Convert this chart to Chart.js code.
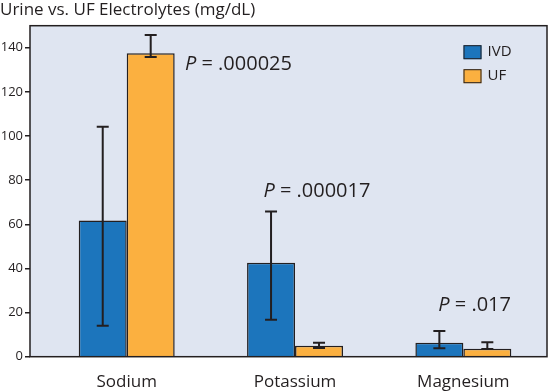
<!DOCTYPE html>
<html>
<head>
<meta charset="utf-8">
<script src="https://cdn.jsdelivr.net/npm/chart.js@4/dist/chart.umd.min.js"></script>
<style>
  html, body { margin: 0; padding: 0; background: #fff; }
  #wrap { width: 550px; height: 391px; position: relative; }
</style>
</head>
<body>
<div id="wrap"><canvas id="chart"></canvas></div>
<script>
// Datos (mg/dL)
const categories = ['Sodium', 'Potassium', 'Magnesium'];
const ivdMeans = [61.7, 42.6, 6.3];
const ivdLow = [14.0, 16.7, 3.8];
const ivdHigh = [104.2, 65.8, 11.7];
const ufMeans = [137.5, 5.0, 3.6];
const ufLow = [135.8, 3.9, 3.5];
const ufHigh = [145.8, 6.3, 6.5];
const yTicks = [0, 20, 40, 60, 80, 100, 120, 140];
const pLabels = ['.000025', '.000017', '.017'];
// posicion del texto P (x en unidades de categoria, y en mg/dL)
const pLabelPos = [[0.346, 132.7], [0.812, 75], [1.851, 23.3]];

const FONT = '"Open Sans", "Noto Sans", sans-serif';
const INK = '#231f20';
const BLUE = '#1c75bc';
const ORANGE = '#fbb040';

const lows = [ivdLow, ufLow];
const highs = [ivdHigh, ufHigh];

const decor = {
  id: 'decor',
  beforeDraw(chart) {
    const { ctx, chartArea: a } = chart;
    ctx.save();
    ctx.fillStyle = '#dfe5f1';
    ctx.fillRect(a.left, a.top, a.right - a.left, a.bottom - a.top);
    ctx.restore();
  },
  afterDatasetsDraw(chart) {
    const { ctx, chartArea: a } = chart;
    const xs = chart.scales.x, ys = chart.scales.y;
    ctx.save();

    // barras de error
    ctx.strokeStyle = INK;
    ctx.lineWidth = 2;
    chart.data.datasets.forEach((ds, i) => {
      const meta = chart.getDatasetMeta(i);
      meta.data.forEach((bar, j) => {
        const x = bar.x;
        const yl = ys.getPixelForValue(lows[i][j]);
        const yh = ys.getPixelForValue(highs[i][j]);
        ctx.beginPath();
        ctx.moveTo(x, yl); ctx.lineTo(x, yh);
        ctx.moveTo(x - 6, yl); ctx.lineTo(x + 6, yl);
        ctx.moveTo(x - 6, yh); ctx.lineTo(x + 6, yh);
        ctx.stroke();
      });
    });

    // marco del area
    ctx.lineWidth = 1.5;
    ctx.strokeRect(a.left, a.top, a.right - a.left, a.bottom - a.top);

    // valores P
    ctx.fillStyle = INK;
    ctx.textBaseline = 'middle';
    pLabels.forEach((txt, i) => {
      const x = xs.getPixelForValue(pLabelPos[i][0]);
      const y = ys.getPixelForValue(pLabelPos[i][1]);
      ctx.font = 'italic 20px ' + FONT;
      ctx.fillText('P', x, y);
      const w = ctx.measureText('P').width;
      ctx.font = '20px ' + FONT;
      ctx.fillText(' = ' + txt, x + w, y);
    });

    // leyenda
    ctx.font = '15px ' + FONT;
    ctx.lineWidth = 1;
    chart.data.datasets.forEach((ds, i) => {
      const bx = a.right - 83.5, by = a.top + 19.5 + i * 24;
      ctx.fillStyle = ds.backgroundColor;
      ctx.fillRect(bx, by, 18, 14);
      ctx.strokeRect(bx + 0.5, by + 0.5, 17, 13);
      ctx.fillStyle = INK;
      ctx.fillText(ds.label, bx + 24, by + 7);
    });
    ctx.restore();
  }
};

const makeData = vals => categories.map((c, i) => ({ x: i, y: vals[i] }));

new Chart(document.getElementById('chart').getContext('2d'), {
  type: 'bar',
  data: {
    datasets: [
      { label: 'IVD', data: makeData(ivdMeans), backgroundColor: BLUE, borderColor: INK, borderWidth: 1.5 },
      { label: 'UF', data: makeData(ufMeans), backgroundColor: ORANGE, borderColor: INK, borderWidth: 1.5 }
    ]
  },
  options: {
    responsive: true,
    maintainAspectRatio: false,
    animation: false,
    categoryPercentage: 0.57,
    barPercentage: 1,
    layout: { padding: { left: 0, right: 3, top: 0, bottom: 0 } },
    plugins: {
      legend: { display: false },
      tooltip: { enabled: false },
      title: {
        display: true,
        text: 'Urine vs. UF Electrolytes (mg/dL)',
        align: 'start',
        color: INK,
        font: { family: FONT, size: 17, weight: 'normal' },
        padding: { top: 0, bottom: 5.3 }
      }
    },
    scales: {
      x: {
        type: 'linear',
        offset: false,
        min: -0.5746,
        max: 2.497,
        grid: { display: false, offset: false },
        border: { display: false },
        afterBuildTicks: s => { s.ticks = categories.map((c, i) => ({ value: i })); },
        afterFit: s => { s.height = 34.3; },
        ticks: {
          autoSkip: false, maxRotation: 0, padding: 7, color: INK,
          font: { family: FONT, size: 17 },
          callback: v => categories[v]
        }
      },
      y: {
        min: 0,
        max: 150,
        afterBuildTicks: s => { s.ticks = yTicks.map(v => ({ value: v })); },
        afterFit: s => { s.width = 30; },
        grid: { drawOnChartArea: false, drawTicks: true, tickLength: 5, color: INK, lineWidth: 1.5 },
        border: { display: false },
        ticks: { padding: 2, color: INK, font: { family: FONT, size: 13 } }
      }
    }
  },
  plugins: [decor]
});
</script>
</body>
</html>
